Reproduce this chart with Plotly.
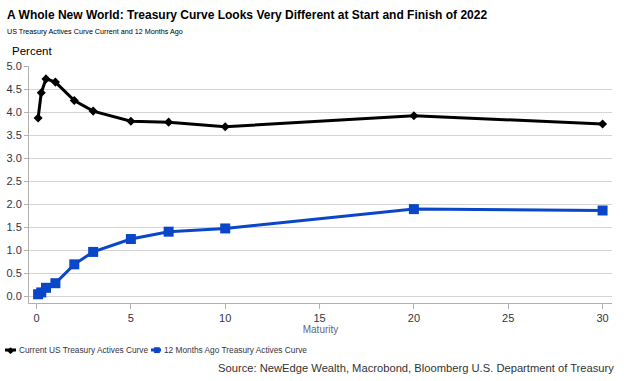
import plotly.graph_objects as go

maturity = [0.083, 0.25, 0.5, 1, 2, 3, 5, 7, 10, 20, 30]
current = [3.87, 4.42, 4.72, 4.65, 4.25, 4.02, 3.80, 3.78, 3.68, 3.92, 3.74]
year_ago = [0.04, 0.08, 0.18, 0.28, 0.69, 0.96, 1.24, 1.40, 1.47, 1.89, 1.86]
x_ticks = [0, 5, 10, 15, 20, 25, 30]
y_ticks = [0.0, 0.5, 1.0, 1.5, 2.0, 2.5, 3.0, 3.5, 4.0, 4.5, 5.0]
series_names = ["Current US Treasury Actives Curve", "12 Months Ago Treasury Actives Curve"]
series_colors = ["#000000", "#0a46c8"]

FONT = "Liberation Sans, Arial, sans-serif"

W, H = 624, 381
L, R, T, B = 29, 12, 66, 78
PW, PH = W - L - R, H - T - B


def px(x):
    return (x - L) / PW


def py(y):
    return (H - B - y) / PH


fig = go.Figure()
fig.add_trace(go.Scatter(
    x=maturity, y=current, mode="lines+markers",
    name=series_names[0],
    line=dict(color=series_colors[0], width=3),
    marker=dict(symbol="diamond", size=7, color=series_colors[0]),
))
fig.add_trace(go.Scatter(
    x=maturity, y=year_ago, mode="lines+markers",
    name=series_names[1],
    line=dict(color=series_colors[1], width=3),
    marker=dict(symbol="square", size=10, color=series_colors[1]),
))

annotations = [
    dict(text="<b>A Whole New World: Treasury Curve Looks Very Different at Start and Finish of 2022</b>",
         x=px(5), y=py(15), font=dict(size=12, color="#000000", family=FONT)),
    dict(text="US Treasury Actives Curve Current and 12 Months Ago",
         x=px(5), y=py(32), font=dict(size=7.2, color="#000000", family=FONT)),
    dict(text="Percent",
         x=px(10), y=py(51), font=dict(size=11.5, color="#000000", family=FONT)),
    dict(text="Source: NewEdge Wealth, Macrobond, Bloomberg U.S. Department of Treasury",
         x=px(616), y=py(368), xanchor="right", font=dict(size=11.2, color="#333333", family=FONT)),
    dict(text="◆", x=px(10.5), y=py(350), xanchor="center",
         font=dict(size=9, color=series_colors[0], family=FONT)),
    dict(text=series_names[0], x=px(17), y=py(350),
         font=dict(size=8.3, color="#333344", family=FONT)),
    dict(text="■", x=px(156), y=py(350), xanchor="center",
         font=dict(size=12, color=series_colors[1], family=FONT)),
    dict(text=series_names[1], x=px(162), y=py(350),
         font=dict(size=8.3, color="#333344", family=FONT)),
]
for a in annotations:
    a.setdefault("xanchor", "left")
    a.update(xref="paper", yref="paper", yanchor="middle", showarrow=False)

shapes = [
    dict(type="line", xref="paper", yref="paper", x0=px(5), x1=px(16), y0=py(350), y1=py(350),
         line=dict(color=series_colors[0], width=3)),
    dict(type="line", xref="paper", yref="paper", x0=px(151), x1=px(161), y0=py(350), y1=py(350),
         line=dict(color=series_colors[1], width=3)),
]

fig.update_layout(
    width=W, height=H,
    margin=dict(l=L, r=R, t=T, b=B, autoexpand=False),
    paper_bgcolor="white", plot_bgcolor="white",
    font=dict(family=FONT, size=11, color="#333333"),
    showlegend=False,
    xaxis=dict(range=[-0.4, 30.5], tickvals=x_ticks, showgrid=False, automargin=False,
               showline=True, linecolor="#b0b0b0", linewidth=1,
               ticks="outside", ticklen=5, tickcolor="#b0b0b0",
               tickfont=dict(size=11, color="#333344"), zeroline=False,
               title=dict(text="Maturity", font=dict(size=10, color="#666677"), standoff=2)),
    yaxis=dict(range=[-0.15, 5.0], tickvals=y_ticks, tickformat=".1f", automargin=False,
               showgrid=True, gridcolor="#d4d4d4", gridwidth=1,
               showline=True, linecolor="#b0b0b0", linewidth=1,
               ticks="outside", ticklen=4, tickcolor="#b0b0b0",
               tickfont=dict(size=11, color="#333344"), zeroline=False),
    annotations=annotations,
    shapes=shapes,
)

fig.write_html("out.html", config={"displayModeBar": False},
               post_script="document.body.style.margin='0';")
